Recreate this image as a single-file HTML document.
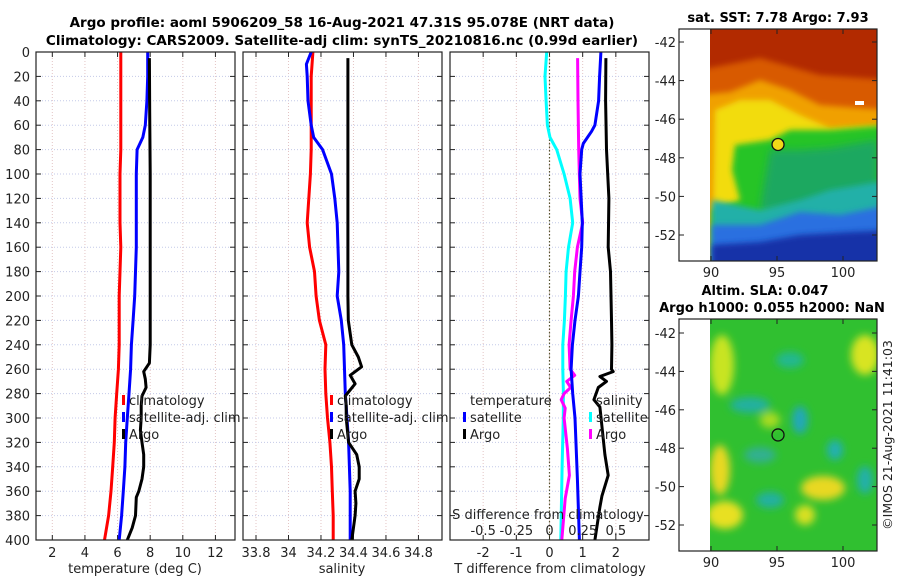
<!DOCTYPE html>
<html><head><meta charset="utf-8"><style>
body{margin:0;background:#fff;}
svg{display:block;font-family:"DejaVu Sans","Liberation Sans",sans-serif;}
</style></head><body>
<svg id="fig" width="900" height="580" viewBox="0 0 900 580" xmlns="http://www.w3.org/2000/svg">
<defs>
<filter id="bl" x="-20%" y="-20%" width="140%" height="140%"><feGaussianBlur stdDeviation="4"/></filter>
<filter id="bl2" x="-30%" y="-30%" width="160%" height="160%"><feGaussianBlur stdDeviation="3"/></filter>
<clipPath id="m1c"><rect x="710" y="29" width="167" height="232"/></clipPath>
<clipPath id="m2c"><rect x="710" y="319" width="167" height="232"/></clipPath>
</defs>
<text x="342" y="27" text-anchor="middle" font-size="13.5" font-weight="bold">Argo profile: aoml 5906209_58 16-Aug-2021 47.31S 95.078E (NRT data)</text>
<text x="342" y="45" text-anchor="middle" font-size="13.5" font-weight="bold">Climatology: CARS2009. Satellite-adj clim: synTS_20210816.nc (0.99d earlier)</text>

<!-- Map 1 SST -->
<g clip-path="url(#m1c)">
<rect x="700" y="20" width="190" height="260" fill="#b22a00"/>
<path d="M700 70 L760 58 L820 75 L890 80 L890 280 L700 280Z" fill="#d85a00" filter="url(#bl2)"/>
<path d="M700 95 L730 92 L760 80 L790 90 L820 105 L860 108 L890 110 L890 280 L700 280Z" fill="#f0a000" filter="url(#bl2)"/>
<path d="M715 110 L740 100 L770 100 L800 115 L830 128 L890 125 L890 280 L712 280Z" fill="#f2dc10" filter="url(#bl2)"/>
<path d="M735 145 L770 140 L790 130 L830 130 L890 125 L890 280 L712 280 L712 210 L740 200 L732 170Z" fill="#28c428" filter="url(#bl2)"/>
<path d="M770 150 L800 150 L830 148 L877 140 L877 220 L760 210 Z" fill="#1ea860" filter="url(#bl)"/>
<path d="M712 200 L760 210 L800 200 L830 190 L890 180 L890 280 L712 280Z" fill="#20b0a8" filter="url(#bl2)"/>
<path d="M712 225 L760 225 L800 212 L840 215 L890 205 L890 280 L712 280Z" fill="#2a70e0" filter="url(#bl2)"/>
<path d="M712 245 L760 242 L800 235 L850 232 L890 230 L890 280 L712 280Z" fill="#1830a8" filter="url(#bl2)"/>
<rect x="855" y="101" width="9" height="4" fill="#fff"/>
</g>
<!-- Map 2 SLA -->
<g clip-path="url(#m2c)">
<rect x="700" y="310" width="190" height="260" fill="#30c030"/>
<g filter="url(#bl)">
<ellipse cx="722" cy="365" rx="12" ry="30" fill="#c8e420"/>
<ellipse cx="720" cy="470" rx="10" ry="25" fill="#e8d820"/>
<ellipse cx="725" cy="515" rx="18" ry="14" fill="#e8e020"/>
<ellipse cx="865" cy="355" rx="14" ry="20" fill="#d8e420"/>
<ellipse cx="823" cy="488" rx="22" ry="12" fill="#e8d820"/>
<ellipse cx="805" cy="515" rx="10" ry="10" fill="#d8e020"/>
<ellipse cx="770" cy="420" rx="10" ry="8" fill="#a8dc20"/>
<ellipse cx="750" cy="405" rx="20" ry="8" fill="#20b0a0"/>
<ellipse cx="800" cy="420" rx="8" ry="14" fill="#20a8b8"/>
<ellipse cx="835" cy="450" rx="8" ry="10" fill="#20b0b0"/>
<ellipse cx="760" cy="455" rx="16" ry="8" fill="#30b090"/>
<ellipse cx="770" cy="500" rx="14" ry="8" fill="#20b0a0"/>
<ellipse cx="865" cy="480" rx="8" ry="14" fill="#20b0a8"/>
<ellipse cx="790" cy="360" rx="14" ry="8" fill="#20b890"/>
</g>
</g>

<text x="778" y="22" text-anchor="middle" font-size="13" font-weight="bold">sat. SST: 7.78 Argo: 7.93</text>
<text x="765" y="295" text-anchor="middle" font-size="13" font-weight="bold">Altim. SLA: 0.047</text>
<text x="772" y="312" text-anchor="middle" font-size="13" font-weight="bold">Argo h1000: 0.055 h2000: NaN</text>
<text transform="translate(892,435) rotate(-90)" text-anchor="middle" font-size="12.5" fill="#222">©IMOS 21-Aug-2021 11:41:03</text>
<g id="plots"></g>
</svg>
<script>
// ---- data ----
const depthTicks = [0,20,40,60,80,100,120,140,160,180,200,220,240,260,280,300,320,340,360,380,400];
const tempTicks = [2,4,6,8,10,12];
const salTicks = [33.8,34,34.2,34.4,34.6,34.8];
const salTickLabels = ["33.8","34","34.2","34.4","34.6","34.8"];
const tdiffTicks = [-2,-1,0,1,2];
const sdiffTicks = [-0.5,-0.25,0,0.25,0.5];
const sdiffTickLabels = ["-0.5","-0.25","0","0.25","0.5"];
const lonTicks = [90,95,100];
const latTicks = [-42,-44,-46,-48,-50,-52];

const climDepth = [0,20,40,60,80,100,120,140,160,180,200,220,240,260,280,300,320,340,360,380,400];
const tempClim = [6.2,6.2,6.2,6.2,6.2,6.15,6.15,6.15,6.2,6.15,6.1,6.1,6.1,6.05,5.95,5.85,5.8,5.7,5.6,5.45,5.2];
const salClim = [34.15,34.14,34.14,34.14,34.14,34.135,34.125,34.115,34.13,34.16,34.17,34.19,34.23,34.225,34.23,34.24,34.255,34.265,34.27,34.275,34.275];

const satTDepth = [0,20,40,60,70,80,100,120,140,160,180,200,220,240,260,280,300,320,340,360,380,400];
const tempSat = [7.85,7.85,7.8,7.7,7.55,7.2,7.15,7.15,7.15,7.15,7.1,7.05,6.95,6.85,6.8,6.7,6.6,6.5,6.45,6.35,6.25,6.1];
const satSDepth = [0,10,20,40,60,70,80,100,120,140,160,180,200,220,240,260,280,300,320,360,400];
const salSat = [34.14,34.11,34.115,34.12,34.14,34.155,34.21,34.265,34.285,34.3,34.305,34.31,34.30,34.325,34.34,34.345,34.35,34.36,34.37,34.38,34.38];

const argoTDepth = [5,50,100,150,200,240,255,262,268,275,282,290,300,310,320,330,340,350,360,365,380,390,400];
const tempArgo = [7.95,7.97,8.0,8.0,8.0,8.0,7.95,7.6,7.7,7.75,7.5,7.45,7.45,7.4,7.5,7.6,7.6,7.5,7.3,7.15,7.1,6.9,6.6];
const argoSDepth = [5,100,200,220,240,250,258,265,272,282,290,300,320,330,340,350,360,370,380,400];
const salArgo = [34.366,34.366,34.366,34.368,34.39,34.43,34.45,34.38,34.41,34.35,34.355,34.355,34.37,34.42,34.435,34.435,34.41,34.415,34.41,34.39];

const sDiffSatDepth = [0,20,40,60,70,80,100,120,140,160,180,200,220,240,260,280,300,340,400];
const sDiffSat = [-0.021,-0.034,-0.026,-0.016,0.004,0.054,0.11,0.155,0.175,0.143,0.125,0.12,0.112,0.10,0.10,0.105,0.104,0.095,0.085];
const sDiffArgoDepth = [5,40,80,120,140,160,180,200,220,240,260,265,270,275,280,285,292,300,325,347,366,400];
const sDiffArgo = [0.212,0.215,0.22,0.23,0.25,0.21,0.19,0.18,0.163,0.148,0.155,0.19,0.13,0.16,0.11,0.088,0.118,0.11,0.135,0.15,0.118,0.093];
const tDiffSatDepth = [0,20,40,60,65,75,80,100,140,160,180,200,220,240,260,280,300,350,400];
const tDiffSat = [1.55,1.51,1.48,1.37,1.27,1.02,0.97,0.92,0.99,0.97,0.92,0.87,0.77,0.69,0.65,0.70,0.77,0.84,0.90];
const tDiffArgoDepth = [5,40,80,120,160,180,220,240,260,262,266,270,275,285,291,330,347,364,373,400];
const tDiffArgo = [1.70,1.69,1.72,1.79,1.77,1.84,1.87,1.88,1.87,1.92,1.52,1.72,1.47,1.34,1.52,1.67,1.77,1.58,1.52,1.37];

const argoLon = 95.078, argoLat = -47.31;

// ---- helpers ----
const NS = "http://www.w3.org/2000/svg";
const root = document.getElementById('plots');
function el(tag, attrs, parent){ const e=document.createElementNS(NS,tag); for(const k in attrs) e.setAttribute(k,attrs[k]); (parent||root).appendChild(e); return e; }
const Y0=52, Y1=540, DMAX=400;
const yD = d => Y0 + d*(Y1-Y0)/DMAX;
function lin(d0,d1,r0,r1){ return v => r0+(v-d0)*(r1-r0)/(d1-d0); }

function panel(name, x0, x1, xs, xticks){
  const g = el('g',{});  
  xticks.forEach(t=>{ const x=xs(t);
    const l=el('line',{x1:x,x2:x,y1:Y0,y2:Y1,stroke:'#e3c4c4','stroke-width':1,'stroke-dasharray':'1,2'},g);
     
  });
  depthTicks.forEach(d=>{ const y=yD(d);
    const l=el('line',{x1:x0,x2:x1,y1:y,y2:y,stroke:'#c4cae8','stroke-width':1,'stroke-dasharray':'1,2'},g);
     
    el('line',{x1:x0,x2:x0+5,y1:y,y2:y,stroke:'#222'},g);
    el('line',{x1:x1-5,x2:x1,y1:y,y2:y,stroke:'#222'},g);
  });
  xticks.forEach(t=>{ const x=xs(t);
    el('line',{x1:x,x2:x,y1:Y1,y2:Y1-5,stroke:'#222'},g);
    el('line',{x1:x,x2:x,y1:Y0,y2:Y0+5,stroke:'#222'},g);
  });
  return g;
}
function frame(g,x0,x1){ const r=el('rect',{x:x0,y:Y0,width:x1-x0,height:Y1-Y0,fill:'none',stroke:'#222','stroke-width':1.2},g);   }
function line(g,xs,vals,deps,color,name,w){
  const pts = vals.map((v,i)=>xs(v).toFixed(1)+','+yD(deps[i]).toFixed(1)).join(' ');
  const p=el('polyline',{points:pts,fill:'none',stroke:color,'stroke-width':w||3,'stroke-linejoin':'round'},g);
   
}
function txt(g,x,y,s,opts,name){ const t=el('text',Object.assign({x:x,y:y,'font-size':13,fill:'#222'},opts||{}),g); t.textContent=s;   return t; }
function legItem(g,x,y,color,label,name){
  const r=el('rect',{x:x,y:y-10,width:3,height:10,fill:color},g);  
  txt(g,x+7,y,label,{},name);
}

// Panel 1 temperature
const xT = lin(1,13.2,36,235);
let g1 = panel('temperature-panel',36,235,xT,tempTicks);
line(g1,xT,tempClim,climDepth,'#ff0000','temp-climatology-line');
line(g1,xT,tempSat,satTDepth,'#0000ff','temp-satellite-line');
line(g1,xT,tempArgo,argoTDepth,'#000','temp-argo-line');
frame(g1,36,235);
depthTicks.forEach(d=>txt(g1,30,yD(d)+5,String(d),{'text-anchor':'end'},'y-tick-label'));
tempTicks.forEach(t=>txt(g1,xT(t),557,String(t),{'text-anchor':'middle'},'x-tick-label'));
txt(g1,135,573,'temperature (deg C)',{'text-anchor':'middle'},'x-axis-title');
legItem(g1,122,405,'#ff0000','climatology','legend-climatology');
legItem(g1,122,422,'#0000ff','satellite-adj. clim','legend-satellite-adj');
legItem(g1,122,439,'#000','Argo','legend-argo');

// Panel 2 salinity
const xS = lin(33.72,34.945,243,442);
let g2 = panel('salinity-panel',243,442,xS,salTicks);
line(g2,xS,salClim,climDepth,'#ff0000','sal-climatology-line');
line(g2,xS,salSat,satSDepth,'#0000ff','sal-satellite-line');
line(g2,xS,salArgo,argoSDepth,'#000','sal-argo-line');
frame(g2,243,442);
salTicks.forEach((t,i)=>txt(g2,xS(t),557,salTickLabels[i],{'text-anchor':'middle'},'x-tick-label'));
txt(g2,342,573,'salinity',{'text-anchor':'middle'},'x-axis-title');
legItem(g2,330,405,'#ff0000','climatology','legend-climatology');
legItem(g2,330,422,'#0000ff','satellite-adj. clim','legend-satellite-adj');
legItem(g2,330,439,'#000','Argo','legend-argo');

// Panel 3 differences
const xD = lin(-3,3,450,649);
const xSD = v => xD(v*4);
let g3 = panel('difference-panel',450,649,xD,tdiffTicks);
const z=el('line',{x1:xD(0),x2:xD(0),y1:Y0,y2:Y1,stroke:'#555530','stroke-width':1.2,'stroke-dasharray':'1.5,2'},g3);
 
line(g3,xSD,sDiffSat,sDiffSatDepth,'#00ffff','sdiff-satellite-line');
line(g3,xSD,sDiffArgo,sDiffArgoDepth,'#ff00ff','sdiff-argo-line');
line(g3,xD,tDiffSat,tDiffSatDepth,'#0000ff','tdiff-satellite-line');
line(g3,xD,tDiffArgo,tDiffArgoDepth,'#000','tdiff-argo-line');
frame(g3,450,649);
tdiffTicks.forEach(t=>txt(g3,xD(t),557,String(t),{'text-anchor':'middle'},'x-tick-label'));
txt(g3,550,573,'T difference from climatology',{'text-anchor':'middle'},'x-axis-title');
txt(g3,548,519,'S difference from climatology',{'text-anchor':'middle'},'s-axis-title');
sdiffTicks.forEach((t,i)=>txt(g3,xSD(t),535,sdiffTickLabels[i],{'text-anchor':'middle'},'s-tick-label'));
txt(g3,470,405,'temperature',{},'legend-temperature-header');
legItem(g3,463,422,'#0000ff','satellite','legend-temp-satellite');
legItem(g3,463,439,'#000','Argo','legend-temp-argo');
txt(g3,596,405,'salinity',{},'legend-salinity-header');
legItem(g3,589,422,'#00ffff','satellite','legend-sal-satellite');
legItem(g3,589,439,'#ff00ff','Argo','legend-sal-argo');

// Maps
const xLon = lin(90,100,711,843);
function mapAxes(name, top, bottom, latY, markerFill){
  const g = el('g',{});  
  el('rect',{x:679,y:top,width:198,height:bottom-top,fill:'none',stroke:'#222','stroke-width':1.2},g);
  latTicks.forEach(t=>{ const y=latY(t);
    el('line',{x1:679,x2:684,y1:y,y2:y,stroke:'#222'},g); el('line',{x1:872,x2:877,y1:y,y2:y,stroke:'#222'},g);
    txt(g,676,y+5,String(t),{'text-anchor':'end'},'lat-tick-label'); });
  lonTicks.forEach(t=>{ const x=xLon(t);
    el('line',{x1:x,x2:x,y1:bottom,y2:bottom-5,stroke:'#222'},g); el('line',{x1:x,x2:x,y1:top,y2:top+5,stroke:'#222'},g);
    txt(g,x,bottom+16,String(t),{'text-anchor':'middle'},'lon-tick-label'); });
  const c=el('circle',{cx:xLon(argoLon),cy:latY(argoLat),r:6,fill:markerFill,stroke:'#111','stroke-width':1.3},g);
   
}
mapAxes('sst-map-axes',29,261,lin(-42,-52,42,235),'#f2d818');
mapAxes('sla-map-axes',319,551,lin(-42,-52,333,525),'none');
</script>
</body></html>
